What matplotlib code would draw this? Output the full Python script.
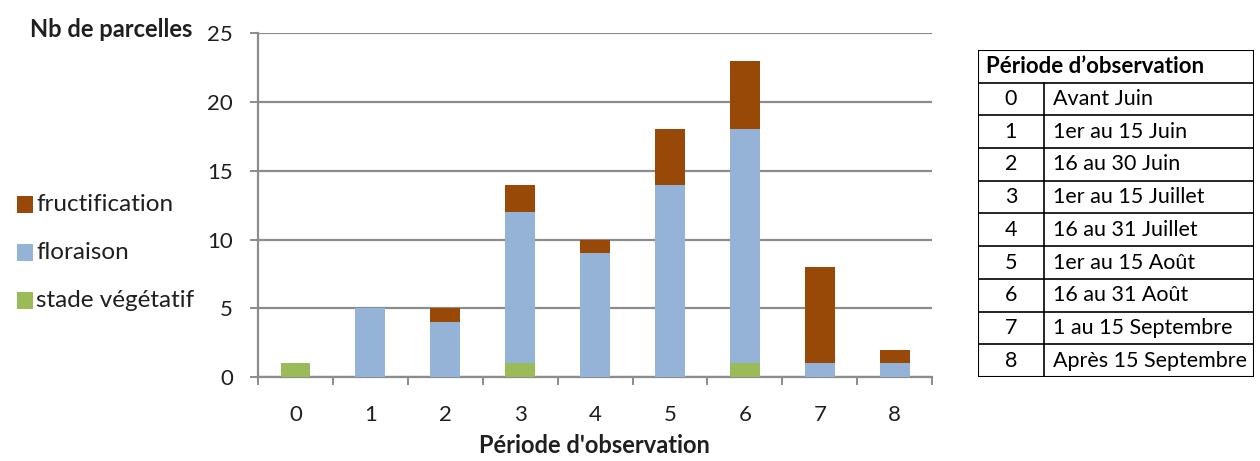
import matplotlib.pyplot as plt
from matplotlib.patches import Rectangle

periodes = [0, 1, 2, 3, 4, 5, 6, 7, 8]
vegetatif = [1, 0, 0, 1, 0, 0, 1, 0, 0]
floraison = [0, 5, 4, 11, 9, 14, 17, 1, 1]
fructification = [0, 0, 1, 2, 1, 4, 5, 7, 1]
libelles = ["Avant Juin", "1er au 15 Juin", "16 au 30 Juin", "1er au 15 Juillet",
            "16 au 31 Juillet", "1er au 15 Août", "16 au 31 Août",
            "1 au 15 Septembre", "Après 15 Septembre"]

c_veg = "#9BBB59"
c_flo = "#95B3D7"
c_fru = "#984807"
txt = "#1f1f1f"

plt.rcParams['font.family'] = ['Lato', 'DejaVu Sans']

fig = plt.figure(figsize=(12.6, 4.61), dpi=100)
ax = fig.add_axes([0.2048, 0.182, 0.535, 0.746])

ax.bar(periodes, vegetatif, width=0.4, color=c_veg, zorder=3)
ax.bar(periodes, floraison, width=0.4, bottom=vegetatif, color=c_flo, zorder=3)
bot2 = [a + b for a, b in zip(vegetatif, floraison)]
ax.bar(periodes, fructification, width=0.4, bottom=bot2, color=c_fru, zorder=3)

ax.set_xlim(-0.5, 8.5)
ax.set_ylim(0, 25)
ax.set_yticks(range(0, 26, 5))
ax.yaxis.grid(True, color="#8c8c8c", linewidth=1.6, zorder=0)
ax.set_xticks(periodes)
ax.set_xticks([i + 0.5 for i in range(-1, 9)], minor=True)
ax.tick_params(axis='x', which='major', length=0, pad=20, labelsize=16, labelcolor=txt)
ax.tick_params(axis='x', which='minor', length=6, width=1.4, color="#8c8c8c", direction='out')
ax.tick_params(axis='y', length=6, width=1.4, color="#8c8c8c", pad=12, labelsize=16, labelcolor=txt)
for s in ['top', 'right']:
    ax.spines[s].set_visible(False)
for s in ['left', 'bottom']:
    ax.spines[s].set_color("#8c8c8c")
    ax.spines[s].set_linewidth(1.6)

fig.text(0.472, 0.008, "Période d'observation", fontsize=17, fontweight='bold', color=txt,
         ha='center', va='bottom')
fig.text(0.024, 0.935, "Nb de parcelles", fontsize=17, fontweight='bold', color=txt, ha='left', va='center')

# legende a gauche
for y, lab, col in [(0.557, "fructification", c_fru), (0.453, "floraison", c_flo),
                    (0.349, "stade végétatif", c_veg)]:
    fig.patches.append(Rectangle((0.0135, y - 0.019), 0.0125, 0.036, transform=fig.transFigure,
                                 facecolor=col, edgecolor='none'))
    fig.text(0.0285, y, lab, fontsize=17.5, color=txt, va='center', ha='left')

# tableau
tab = fig.add_axes([0.776, 0.182, 0.219, 0.710])
tab.set_xlim(0, 275)
tab.set_ylim(0, 10)
tab.invert_yaxis()
tab.axis('off')
tab.add_patch(Rectangle((0, 0), 275, 10, fill=False, edgecolor='black', linewidth=1.5))
for i in range(1, 10):
    tab.plot([0, 275], [i, i], color='black', linewidth=1.2)
tab.plot([66, 66], [1, 10], color='black', linewidth=1.2)
tab.text(8, 0.5, "Période d’observation", fontsize=16, fontweight='bold', va='center', ha='left')
for i, (p, lab) in enumerate(zip(periodes, libelles)):
    tab.text(33, i + 1.5, str(p), fontsize=15.5, va='center', ha='center')
    tab.text(75, i + 1.5, lab, fontsize=15.5, va='center', ha='left')

fig.savefig("out.png", dpi=100)
